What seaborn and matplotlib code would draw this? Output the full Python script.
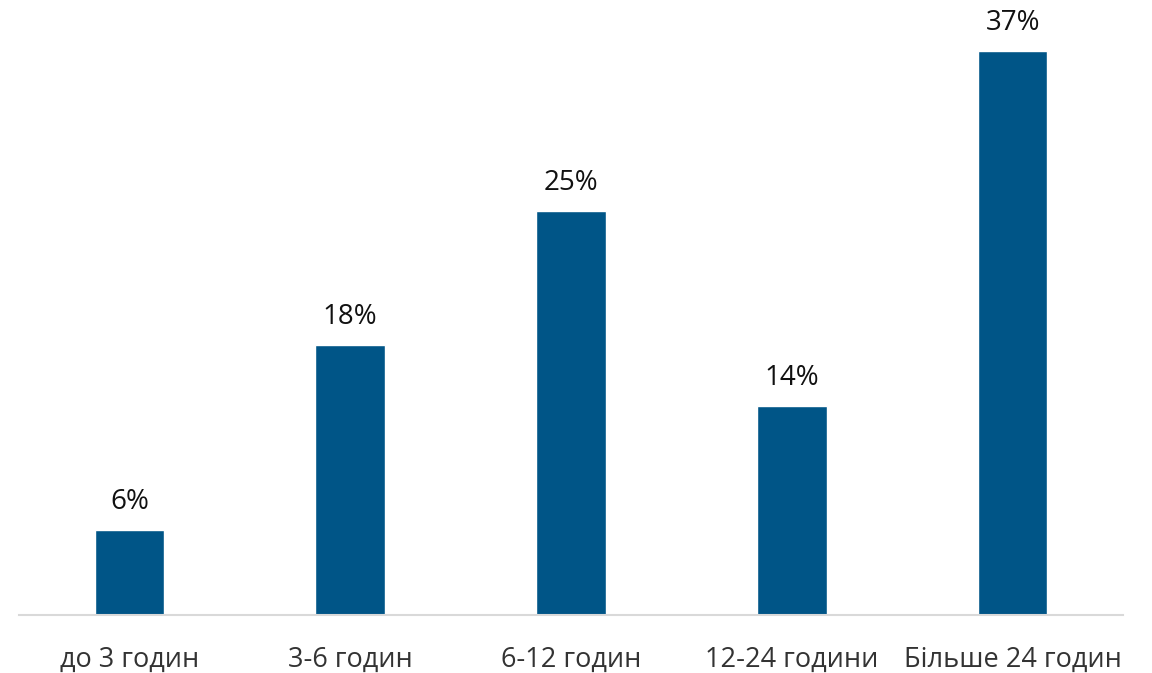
import matplotlib
matplotlib.use("Agg")
import matplotlib.pyplot as plt
import seaborn as sns
import pandas as pd

categories = ["до 3 годин", "3-6 годин", "6-12 годин", "12-24 години", "Більше 24 годин"]
bar_heights = [5.6, 17.7, 26.5, 13.7, 37.0]
value_labels = ["6%", "18%", "25%", "14%", "37%"]

sns.set_theme(style="white")
plt.rcParams['font.family'] = ['Open Sans', 'DejaVu Sans']

df = pd.DataFrame({"cat": categories, "val": bar_heights})

fig = plt.figure(figsize=(11.52, 6.73), dpi=100)
ax = fig.add_axes([19/1152, 58/673, 1104/1152, 615/673])
sns.barplot(data=df, x="cat", y="val", color="#005587", saturation=1, width=0.315, ax=ax)

ax.set_xlim(-0.5, 4.5)
ax.set_ylim(0, 615/15.24)
ax.set_xlabel("")
ax.set_ylabel("")
ax.set_yticks([])
for s in ["top", "right", "left"]:
    ax.spines[s].set_visible(False)
ax.spines["bottom"].set_color("#d9d9d9")
ax.spines["bottom"].set_linewidth(1.5)
ax.tick_params(axis="x", length=0, pad=22, labelsize=19.5, labelcolor="#333333")

for i, (h, lab) in enumerate(zip(bar_heights, value_labels)):
    ax.annotate(lab, (i, h), xytext=(0, 10), textcoords="offset points",
                ha="center", va="bottom", fontsize=20, color="#111111")

fig.savefig("out.png", dpi=100)
